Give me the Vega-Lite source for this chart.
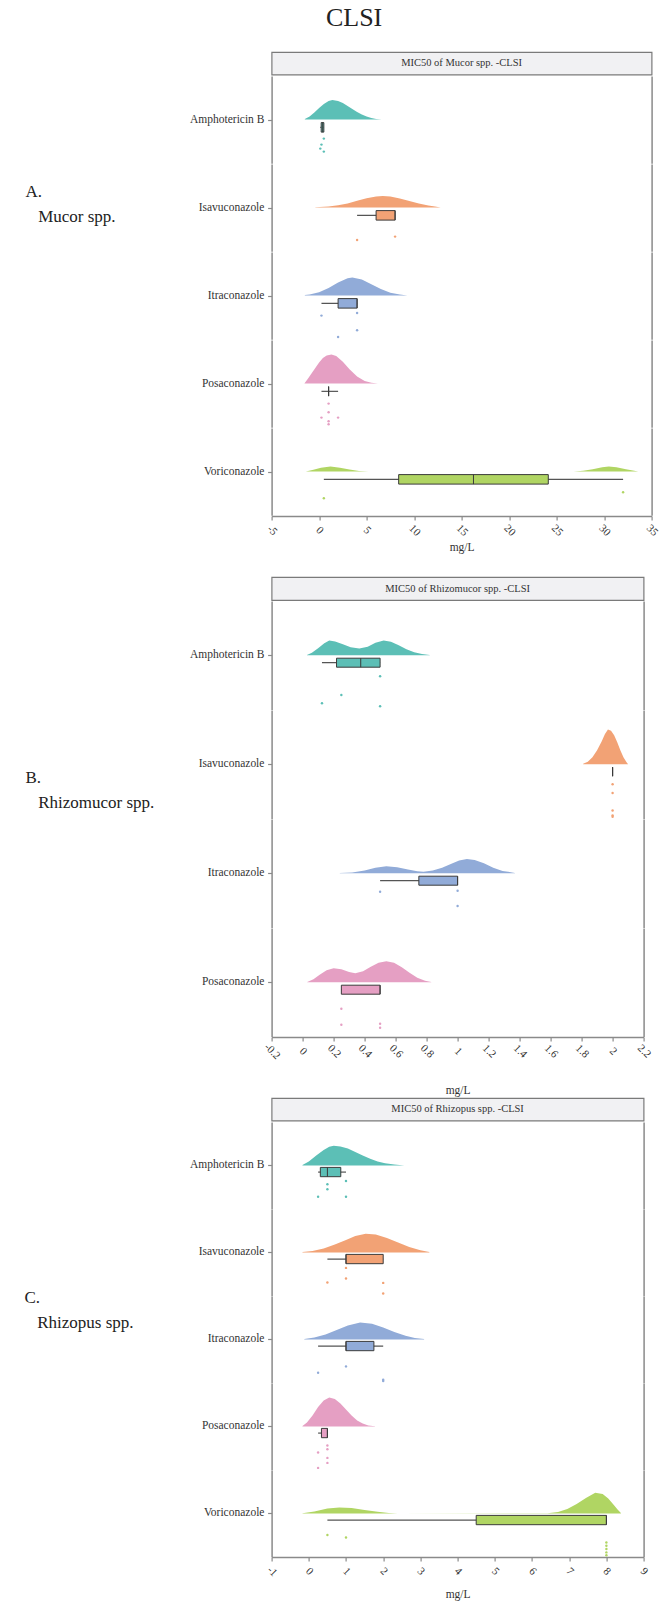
{
"$schema": "https://vega.github.io/schema/vega-lite/v6.json",
"background": "white",
"padding": {"left": 23.6, "top": 5, "right": 2, "bottom": 2},
"config": {
 "font": "Liberation Serif",
 "view": {"stroke": null},
 "legend": {"disable": true},
 "range": {"category": ["#5cbfb6", "#f2a275", "#91abd8", "#e59fc3", "#b0d563"]},
 "axis": {"grid": false, "labelFont": "Liberation Serif", "titleFont": "Liberation Serif", "labelColor": "#333333", "titleColor": "#333333", "domainColor": "#8a8a8a", "tickColor": "#8a8a8a", "domainWidth": 1.5, "tickWidth": 1.2},
 "axisX": {"labelAngle": 45, "labelFontSize": 11, "titleFontSize": 11.5, "titleFontWeight": "normal", "tickSize": 4, "labelPadding": 10, "titlePadding": 10.5, "labelAlign": "center", "labelBaseline": "middle", "labelFlush": false, "labelOverlap": false, "labelExpr": "replace(datum.label, '\u2212', '-')"},
 "axisY": {"labels": false, "tickSize": 4, "minExtent": 0},
 "header": {"labelAngle": 0, "labelAlign": "left", "labelOrient": "left", "labelBaseline": "middle", "labelFont": "Liberation Serif", "labelFontSize": 11.5, "labelColor": "#333333", "labelPadding": 2.5},
 "title": {"font": "Liberation Serif", "fontWeight": "normal", "color": "#222222"}
},
"datasets": {
 "A": [
  {"drug": "Amphotericin B", "kind": "box", "lo": 0.125, "q1": 0.22, "med": 0.375, "q3": 0.5, "hi": 0.5},
  {"drug": "Isavuconazole", "kind": "box", "lo": 4, "q1": 6, "med": 8, "q3": 8, "hi": 8},
  {"drug": "Itraconazole", "kind": "box", "lo": 0.25, "q1": 2, "med": 4, "q3": 4, "hi": 4},
  {"drug": "Posaconazole", "kind": "box", "lo": 0.25, "q1": 1, "med": 1, "q3": 1, "hi": 2},
  {"drug": "Voriconazole", "kind": "box", "lo": 0.5, "q1": 8.375, "med": 16.25, "q3": 24.125, "hi": 32},
  {"drug": "Amphotericin B", "kind": "dot", "x": 0.5, "jit": -19},
  {"drug": "Amphotericin B", "kind": "dot", "x": 0.25, "jit": -25},
  {"drug": "Amphotericin B", "kind": "dot", "x": 0.125, "jit": -29},
  {"drug": "Amphotericin B", "kind": "dot", "x": 0.5, "jit": -32},
  {"drug": "Isavuconazole", "kind": "dot", "x": 4, "jit": -32.4},
  {"drug": "Isavuconazole", "kind": "dot", "x": 8, "jit": -29},
  {"drug": "Itraconazole", "kind": "dot", "x": 0.25, "jit": -20},
  {"drug": "Itraconazole", "kind": "dot", "x": 4, "jit": -17.3},
  {"drug": "Itraconazole", "kind": "dot", "x": 4, "jit": -34.7},
  {"drug": "Itraconazole", "kind": "dot", "x": 2, "jit": -41.3},
  {"drug": "Posaconazole", "kind": "dot", "x": 1, "jit": -20},
  {"drug": "Posaconazole", "kind": "dot", "x": 1, "jit": -28.7},
  {"drug": "Posaconazole", "kind": "dot", "x": 0.25, "jit": -34},
  {"drug": "Posaconazole", "kind": "dot", "x": 2, "jit": -34},
  {"drug": "Posaconazole", "kind": "dot", "x": 1, "jit": -37.7},
  {"drug": "Posaconazole", "kind": "dot", "x": 1, "jit": -40.7},
  {"drug": "Voriconazole", "kind": "dot", "x": 0.5, "jit": -26.7},
  {"drug": "Voriconazole", "kind": "dot", "x": 32, "jit": -20.7},
  {"drug": "Amphotericin B", "kind": "dens", "seg": 1, "x": -1.5, "h": 0.5},
  {"drug": "Amphotericin B", "kind": "dens", "seg": 1, "x": -1, "h": 3},
  {"drug": "Amphotericin B", "kind": "dens", "seg": 1, "x": -0.5, "h": 7},
  {"drug": "Amphotericin B", "kind": "dens", "seg": 1, "x": 0, "h": 11.5},
  {"drug": "Amphotericin B", "kind": "dens", "seg": 1, "x": 0.5, "h": 15.5},
  {"drug": "Amphotericin B", "kind": "dens", "seg": 1, "x": 1, "h": 18.5},
  {"drug": "Amphotericin B", "kind": "dens", "seg": 1, "x": 1.4, "h": 19.5},
  {"drug": "Amphotericin B", "kind": "dens", "seg": 1, "x": 2, "h": 18.5},
  {"drug": "Amphotericin B", "kind": "dens", "seg": 1, "x": 2.5, "h": 16.5},
  {"drug": "Amphotericin B", "kind": "dens", "seg": 1, "x": 3, "h": 13.5},
  {"drug": "Amphotericin B", "kind": "dens", "seg": 1, "x": 3.5, "h": 10.5},
  {"drug": "Amphotericin B", "kind": "dens", "seg": 1, "x": 4, "h": 7.5},
  {"drug": "Amphotericin B", "kind": "dens", "seg": 1, "x": 4.5, "h": 5},
  {"drug": "Amphotericin B", "kind": "dens", "seg": 1, "x": 5, "h": 3},
  {"drug": "Amphotericin B", "kind": "dens", "seg": 1, "x": 5.5, "h": 1.5},
  {"drug": "Amphotericin B", "kind": "dens", "seg": 1, "x": 6, "h": 0.7},
  {"drug": "Amphotericin B", "kind": "dens", "seg": 1, "x": 6.6, "h": 0},
  {"drug": "Isavuconazole", "kind": "dens", "seg": 1, "x": -0.4, "h": 0.3},
  {"drug": "Isavuconazole", "kind": "dens", "seg": 1, "x": 1, "h": 1},
  {"drug": "Isavuconazole", "kind": "dens", "seg": 1, "x": 2, "h": 2.3},
  {"drug": "Isavuconazole", "kind": "dens", "seg": 1, "x": 3, "h": 4.2},
  {"drug": "Isavuconazole", "kind": "dens", "seg": 1, "x": 4, "h": 6.8},
  {"drug": "Isavuconazole", "kind": "dens", "seg": 1, "x": 5, "h": 9.3},
  {"drug": "Isavuconazole", "kind": "dens", "seg": 1, "x": 6, "h": 11.2},
  {"drug": "Isavuconazole", "kind": "dens", "seg": 1, "x": 6.7, "h": 11.6},
  {"drug": "Isavuconazole", "kind": "dens", "seg": 1, "x": 7.5, "h": 11.1},
  {"drug": "Isavuconazole", "kind": "dens", "seg": 1, "x": 8.5, "h": 9.1},
  {"drug": "Isavuconazole", "kind": "dens", "seg": 1, "x": 9.5, "h": 6.5},
  {"drug": "Isavuconazole", "kind": "dens", "seg": 1, "x": 10.5, "h": 4},
  {"drug": "Isavuconazole", "kind": "dens", "seg": 1, "x": 11.5, "h": 2.1},
  {"drug": "Isavuconazole", "kind": "dens", "seg": 1, "x": 12.2, "h": 1},
  {"drug": "Isavuconazole", "kind": "dens", "seg": 1, "x": 12.8, "h": 0},
  {"drug": "Itraconazole", "kind": "dens", "seg": 1, "x": -1.5, "h": 0.5},
  {"drug": "Itraconazole", "kind": "dens", "seg": 1, "x": -1, "h": 1.1},
  {"drug": "Itraconazole", "kind": "dens", "seg": 1, "x": 0, "h": 3.3},
  {"drug": "Itraconazole", "kind": "dens", "seg": 1, "x": 1, "h": 7.6},
  {"drug": "Itraconazole", "kind": "dens", "seg": 1, "x": 2, "h": 13.2},
  {"drug": "Itraconazole", "kind": "dens", "seg": 1, "x": 3, "h": 17.4},
  {"drug": "Itraconazole", "kind": "dens", "seg": 1, "x": 3.5, "h": 18},
  {"drug": "Itraconazole", "kind": "dens", "seg": 1, "x": 4.5, "h": 16.1},
  {"drug": "Itraconazole", "kind": "dens", "seg": 1, "x": 5.5, "h": 11.4},
  {"drug": "Itraconazole", "kind": "dens", "seg": 1, "x": 6.5, "h": 6.5},
  {"drug": "Itraconazole", "kind": "dens", "seg": 1, "x": 7.5, "h": 2.9},
  {"drug": "Itraconazole", "kind": "dens", "seg": 1, "x": 8.5, "h": 1.1},
  {"drug": "Itraconazole", "kind": "dens", "seg": 1, "x": 9.3, "h": 0.2},
  {"drug": "Posaconazole", "kind": "dens", "seg": 1, "x": -1.55, "h": 0},
  {"drug": "Posaconazole", "kind": "dens", "seg": 1, "x": -1.2, "h": 4.5},
  {"drug": "Posaconazole", "kind": "dens", "seg": 1, "x": -0.8, "h": 10},
  {"drug": "Posaconazole", "kind": "dens", "seg": 1, "x": -0.4, "h": 15.5},
  {"drug": "Posaconazole", "kind": "dens", "seg": 1, "x": 0, "h": 21},
  {"drug": "Posaconazole", "kind": "dens", "seg": 1, "x": 0.4, "h": 25.5},
  {"drug": "Posaconazole", "kind": "dens", "seg": 1, "x": 0.8, "h": 28.2},
  {"drug": "Posaconazole", "kind": "dens", "seg": 1, "x": 1.3, "h": 29},
  {"drug": "Posaconazole", "kind": "dens", "seg": 1, "x": 1.8, "h": 27.6},
  {"drug": "Posaconazole", "kind": "dens", "seg": 1, "x": 2.5, "h": 21.9},
  {"drug": "Posaconazole", "kind": "dens", "seg": 1, "x": 3.2, "h": 14.3},
  {"drug": "Posaconazole", "kind": "dens", "seg": 1, "x": 4, "h": 7},
  {"drug": "Posaconazole", "kind": "dens", "seg": 1, "x": 4.8, "h": 2.7},
  {"drug": "Posaconazole", "kind": "dens", "seg": 1, "x": 5.5, "h": 0.9},
  {"drug": "Posaconazole", "kind": "dens", "seg": 1, "x": 6.2, "h": 0.2},
  {"drug": "Voriconazole", "kind": "dens", "seg": 1, "x": -1.4, "h": 0.2},
  {"drug": "Voriconazole", "kind": "dens", "seg": 1, "x": -0.6, "h": 1.8},
  {"drug": "Voriconazole", "kind": "dens", "seg": 1, "x": 0.2, "h": 3.9},
  {"drug": "Voriconazole", "kind": "dens", "seg": 1, "x": 1.2, "h": 5},
  {"drug": "Voriconazole", "kind": "dens", "seg": 1, "x": 2.2, "h": 3.9},
  {"drug": "Voriconazole", "kind": "dens", "seg": 1, "x": 3.2, "h": 2},
  {"drug": "Voriconazole", "kind": "dens", "seg": 1, "x": 4.2, "h": 0.7},
  {"drug": "Voriconazole", "kind": "dens", "seg": 1, "x": 5.2, "h": 0},
  {"drug": "Voriconazole", "kind": "dens", "seg": 2, "x": 26.8, "h": 0},
  {"drug": "Voriconazole", "kind": "dens", "seg": 2, "x": 27.8, "h": 0.8},
  {"drug": "Voriconazole", "kind": "dens", "seg": 2, "x": 28.8, "h": 2.4},
  {"drug": "Voriconazole", "kind": "dens", "seg": 2, "x": 29.8, "h": 4.3},
  {"drug": "Voriconazole", "kind": "dens", "seg": 2, "x": 30.5, "h": 5},
  {"drug": "Voriconazole", "kind": "dens", "seg": 2, "x": 31.3, "h": 4.4},
  {"drug": "Voriconazole", "kind": "dens", "seg": 2, "x": 32.3, "h": 2.4},
  {"drug": "Voriconazole", "kind": "dens", "seg": 2, "x": 33.6, "h": 0}
 ],
 "B": [
  {"drug": "Amphotericin B", "kind": "box", "lo": 0.125, "q1": 0.219, "med": 0.375, "q3": 0.5, "hi": 0.5},
  {"drug": "Isavuconazole", "kind": "box", "lo": 2, "q1": 2, "med": 2, "q3": 2, "hi": 2},
  {"drug": "Itraconazole", "kind": "box", "lo": 0.5, "q1": 0.75, "med": 1, "q3": 1, "hi": 1},
  {"drug": "Posaconazole", "kind": "box", "lo": 0.25, "q1": 0.25, "med": 0.5, "q3": 0.5, "hi": 0.5},
  {"drug": "Amphotericin B", "kind": "dot", "x": 0.5, "jit": -21.1},
  {"drug": "Amphotericin B", "kind": "dot", "x": 0.25, "jit": -39.8},
  {"drug": "Amphotericin B", "kind": "dot", "x": 0.125, "jit": -48.1},
  {"drug": "Amphotericin B", "kind": "dot", "x": 0.5, "jit": -51.1},
  {"drug": "Isavuconazole", "kind": "dot", "x": 2, "jit": -20},
  {"drug": "Isavuconazole", "kind": "dot", "x": 2, "jit": -28.7},
  {"drug": "Isavuconazole", "kind": "dot", "x": 2, "jit": -46.4},
  {"drug": "Isavuconazole", "kind": "dot", "x": 2, "jit": -51.2},
  {"drug": "Isavuconazole", "kind": "dot", "x": 2, "jit": -52.6},
  {"drug": "Itraconazole", "kind": "dot", "x": 0.5, "jit": -18.6},
  {"drug": "Itraconazole", "kind": "dot", "x": 1, "jit": -17.6},
  {"drug": "Itraconazole", "kind": "dot", "x": 1, "jit": -32.9},
  {"drug": "Posaconazole", "kind": "dot", "x": 0.25, "jit": -26.5},
  {"drug": "Posaconazole", "kind": "dot", "x": 0.25, "jit": -42.5},
  {"drug": "Posaconazole", "kind": "dot", "x": 0.5, "jit": -41.5},
  {"drug": "Posaconazole", "kind": "dot", "x": 0.5, "jit": -45.5},
  {"drug": "Amphotericin B", "kind": "dens", "seg": 1, "x": 0.028, "h": 0.3},
  {"drug": "Amphotericin B", "kind": "dens", "seg": 1, "x": 0.06, "h": 2.5},
  {"drug": "Amphotericin B", "kind": "dens", "seg": 1, "x": 0.1, "h": 7},
  {"drug": "Amphotericin B", "kind": "dens", "seg": 1, "x": 0.14, "h": 12},
  {"drug": "Amphotericin B", "kind": "dens", "seg": 1, "x": 0.172, "h": 14.7},
  {"drug": "Amphotericin B", "kind": "dens", "seg": 1, "x": 0.21, "h": 13.8},
  {"drug": "Amphotericin B", "kind": "dens", "seg": 1, "x": 0.26, "h": 11},
  {"drug": "Amphotericin B", "kind": "dens", "seg": 1, "x": 0.31, "h": 8},
  {"drug": "Amphotericin B", "kind": "dens", "seg": 1, "x": 0.366, "h": 6.7},
  {"drug": "Amphotericin B", "kind": "dens", "seg": 1, "x": 0.42, "h": 8.5},
  {"drug": "Amphotericin B", "kind": "dens", "seg": 1, "x": 0.47, "h": 12.5},
  {"drug": "Amphotericin B", "kind": "dens", "seg": 1, "x": 0.523, "h": 14.7},
  {"drug": "Amphotericin B", "kind": "dens", "seg": 1, "x": 0.57, "h": 13.5},
  {"drug": "Amphotericin B", "kind": "dens", "seg": 1, "x": 0.62, "h": 10},
  {"drug": "Amphotericin B", "kind": "dens", "seg": 1, "x": 0.67, "h": 6},
  {"drug": "Amphotericin B", "kind": "dens", "seg": 1, "x": 0.72, "h": 3},
  {"drug": "Amphotericin B", "kind": "dens", "seg": 1, "x": 0.77, "h": 1.2},
  {"drug": "Amphotericin B", "kind": "dens", "seg": 1, "x": 0.82, "h": 0.2},
  {"drug": "Isavuconazole", "kind": "dens", "seg": 1, "x": 1.81, "h": 0.5},
  {"drug": "Isavuconazole", "kind": "dens", "seg": 1, "x": 1.84, "h": 2.5},
  {"drug": "Isavuconazole", "kind": "dens", "seg": 1, "x": 1.87, "h": 7},
  {"drug": "Isavuconazole", "kind": "dens", "seg": 1, "x": 1.9, "h": 14},
  {"drug": "Isavuconazole", "kind": "dens", "seg": 1, "x": 1.93, "h": 23},
  {"drug": "Isavuconazole", "kind": "dens", "seg": 1, "x": 1.95, "h": 30},
  {"drug": "Isavuconazole", "kind": "dens", "seg": 1, "x": 1.97, "h": 34.8},
  {"drug": "Isavuconazole", "kind": "dens", "seg": 1, "x": 1.99, "h": 33.5},
  {"drug": "Isavuconazole", "kind": "dens", "seg": 1, "x": 2.01, "h": 29},
  {"drug": "Isavuconazole", "kind": "dens", "seg": 1, "x": 2.03, "h": 22},
  {"drug": "Isavuconazole", "kind": "dens", "seg": 1, "x": 2.05, "h": 14},
  {"drug": "Isavuconazole", "kind": "dens", "seg": 1, "x": 2.07, "h": 7},
  {"drug": "Isavuconazole", "kind": "dens", "seg": 1, "x": 2.09, "h": 2},
  {"drug": "Isavuconazole", "kind": "dens", "seg": 1, "x": 2.1, "h": 0},
  {"drug": "Itraconazole", "kind": "dens", "seg": 1, "x": 0.24, "h": 0.1},
  {"drug": "Itraconazole", "kind": "dens", "seg": 1, "x": 0.32, "h": 0.8},
  {"drug": "Itraconazole", "kind": "dens", "seg": 1, "x": 0.4, "h": 2.8},
  {"drug": "Itraconazole", "kind": "dens", "seg": 1, "x": 0.47, "h": 5.5},
  {"drug": "Itraconazole", "kind": "dens", "seg": 1, "x": 0.54, "h": 7},
  {"drug": "Itraconazole", "kind": "dens", "seg": 1, "x": 0.61, "h": 6},
  {"drug": "Itraconazole", "kind": "dens", "seg": 1, "x": 0.68, "h": 3.8},
  {"drug": "Itraconazole", "kind": "dens", "seg": 1, "x": 0.74, "h": 2},
  {"drug": "Itraconazole", "kind": "dens", "seg": 1, "x": 0.78, "h": 1.5},
  {"drug": "Itraconazole", "kind": "dens", "seg": 1, "x": 0.84, "h": 2.6},
  {"drug": "Itraconazole", "kind": "dens", "seg": 1, "x": 0.9, "h": 5.5},
  {"drug": "Itraconazole", "kind": "dens", "seg": 1, "x": 0.96, "h": 9.5},
  {"drug": "Itraconazole", "kind": "dens", "seg": 1, "x": 1.01, "h": 12.8},
  {"drug": "Itraconazole", "kind": "dens", "seg": 1, "x": 1.06, "h": 14.3},
  {"drug": "Itraconazole", "kind": "dens", "seg": 1, "x": 1.11, "h": 13.2},
  {"drug": "Itraconazole", "kind": "dens", "seg": 1, "x": 1.17, "h": 10},
  {"drug": "Itraconazole", "kind": "dens", "seg": 1, "x": 1.23, "h": 5.5},
  {"drug": "Itraconazole", "kind": "dens", "seg": 1, "x": 1.29, "h": 2.3},
  {"drug": "Itraconazole", "kind": "dens", "seg": 1, "x": 1.37, "h": 0.3},
  {"drug": "Posaconazole", "kind": "dens", "seg": 1, "x": 0.03, "h": 0.3},
  {"drug": "Posaconazole", "kind": "dens", "seg": 1, "x": 0.07, "h": 3},
  {"drug": "Posaconazole", "kind": "dens", "seg": 1, "x": 0.11, "h": 7.5},
  {"drug": "Posaconazole", "kind": "dens", "seg": 1, "x": 0.155, "h": 12},
  {"drug": "Posaconazole", "kind": "dens", "seg": 1, "x": 0.2, "h": 14},
  {"drug": "Posaconazole", "kind": "dens", "seg": 1, "x": 0.25, "h": 13},
  {"drug": "Posaconazole", "kind": "dens", "seg": 1, "x": 0.3, "h": 10.2},
  {"drug": "Posaconazole", "kind": "dens", "seg": 1, "x": 0.34, "h": 9},
  {"drug": "Posaconazole", "kind": "dens", "seg": 1, "x": 0.39, "h": 11},
  {"drug": "Posaconazole", "kind": "dens", "seg": 1, "x": 0.44, "h": 15.5},
  {"drug": "Posaconazole", "kind": "dens", "seg": 1, "x": 0.49, "h": 19.5},
  {"drug": "Posaconazole", "kind": "dens", "seg": 1, "x": 0.54, "h": 21},
  {"drug": "Posaconazole", "kind": "dens", "seg": 1, "x": 0.59, "h": 19.5},
  {"drug": "Posaconazole", "kind": "dens", "seg": 1, "x": 0.64, "h": 15},
  {"drug": "Posaconazole", "kind": "dens", "seg": 1, "x": 0.69, "h": 9.5},
  {"drug": "Posaconazole", "kind": "dens", "seg": 1, "x": 0.74, "h": 4.5},
  {"drug": "Posaconazole", "kind": "dens", "seg": 1, "x": 0.79, "h": 1.5},
  {"drug": "Posaconazole", "kind": "dens", "seg": 1, "x": 0.83, "h": 0.2}
 ],
 "C": [
  {"drug": "Amphotericin B", "kind": "box", "lo": 0.25, "q1": 0.31, "med": 0.5, "q3": 0.86, "hi": 1},
  {"drug": "Isavuconazole", "kind": "box", "lo": 0.5, "q1": 1, "med": 1, "q3": 2, "hi": 2},
  {"drug": "Itraconazole", "kind": "box", "lo": 0.25, "q1": 1, "med": 1, "q3": 1.75, "hi": 2},
  {"drug": "Posaconazole", "kind": "box", "lo": 0.25, "q1": 0.34, "med": 0.5, "q3": 0.5, "hi": 0.5},
  {"drug": "Voriconazole", "kind": "box", "lo": 0.5, "q1": 4.5, "med": 8, "q3": 8, "hi": 8},
  {"drug": "Amphotericin B", "kind": "dot", "x": 1, "jit": -15.6},
  {"drug": "Amphotericin B", "kind": "dot", "x": 0.5, "jit": -18.9},
  {"drug": "Amphotericin B", "kind": "dot", "x": 0.5, "jit": -23.9},
  {"drug": "Amphotericin B", "kind": "dot", "x": 0.25, "jit": -31.3},
  {"drug": "Amphotericin B", "kind": "dot", "x": 1, "jit": -31.3},
  {"drug": "Isavuconazole", "kind": "dot", "x": 1, "jit": -15.5},
  {"drug": "Isavuconazole", "kind": "dot", "x": 1, "jit": -26.1},
  {"drug": "Isavuconazole", "kind": "dot", "x": 0.5, "jit": -30.1},
  {"drug": "Isavuconazole", "kind": "dot", "x": 2, "jit": -30.5},
  {"drug": "Isavuconazole", "kind": "dot", "x": 2, "jit": -41.1},
  {"drug": "Itraconazole", "kind": "dot", "x": 1, "jit": -27},
  {"drug": "Itraconazole", "kind": "dot", "x": 0.25, "jit": -33.3},
  {"drug": "Itraconazole", "kind": "dot", "x": 2, "jit": -40.3},
  {"drug": "Itraconazole", "kind": "dot", "x": 2, "jit": -41.7},
  {"drug": "Posaconazole", "kind": "dot", "x": 0.5, "jit": -19.2},
  {"drug": "Posaconazole", "kind": "dot", "x": 0.5, "jit": -22.9},
  {"drug": "Posaconazole", "kind": "dot", "x": 0.25, "jit": -26.2},
  {"drug": "Posaconazole", "kind": "dot", "x": 0.5, "jit": -31.5},
  {"drug": "Posaconazole", "kind": "dot", "x": 0.5, "jit": -36.5},
  {"drug": "Posaconazole", "kind": "dot", "x": 0.25, "jit": -41.5},
  {"drug": "Voriconazole", "kind": "dot", "x": 0.5, "jit": -21.7},
  {"drug": "Voriconazole", "kind": "dot", "x": 1, "jit": -24.1},
  {"drug": "Voriconazole", "kind": "dot", "x": 8, "jit": -29.1},
  {"drug": "Voriconazole", "kind": "dot", "x": 8, "jit": -32.4},
  {"drug": "Voriconazole", "kind": "dot", "x": 8, "jit": -35.7},
  {"drug": "Voriconazole", "kind": "dot", "x": 8, "jit": -39},
  {"drug": "Voriconazole", "kind": "dot", "x": 8, "jit": -41.8},
  {"drug": "Amphotericin B", "kind": "dens", "seg": 1, "x": -0.17, "h": 0.3},
  {"drug": "Amphotericin B", "kind": "dens", "seg": 1, "x": 0, "h": 4},
  {"drug": "Amphotericin B", "kind": "dens", "seg": 1, "x": 0.2, "h": 10},
  {"drug": "Amphotericin B", "kind": "dens", "seg": 1, "x": 0.4, "h": 15.5},
  {"drug": "Amphotericin B", "kind": "dens", "seg": 1, "x": 0.55, "h": 18.7},
  {"drug": "Amphotericin B", "kind": "dens", "seg": 1, "x": 0.67, "h": 19.7},
  {"drug": "Amphotericin B", "kind": "dens", "seg": 1, "x": 0.85, "h": 19},
  {"drug": "Amphotericin B", "kind": "dens", "seg": 1, "x": 1.05, "h": 16.8},
  {"drug": "Amphotericin B", "kind": "dens", "seg": 1, "x": 1.25, "h": 13.5},
  {"drug": "Amphotericin B", "kind": "dens", "seg": 1, "x": 1.45, "h": 10},
  {"drug": "Amphotericin B", "kind": "dens", "seg": 1, "x": 1.65, "h": 6.7},
  {"drug": "Amphotericin B", "kind": "dens", "seg": 1, "x": 1.85, "h": 4},
  {"drug": "Amphotericin B", "kind": "dens", "seg": 1, "x": 2.05, "h": 2.2},
  {"drug": "Amphotericin B", "kind": "dens", "seg": 1, "x": 2.3, "h": 0.8},
  {"drug": "Amphotericin B", "kind": "dens", "seg": 1, "x": 2.57, "h": 0},
  {"drug": "Isavuconazole", "kind": "dens", "seg": 1, "x": -0.17, "h": 0.3},
  {"drug": "Isavuconazole", "kind": "dens", "seg": 1, "x": 0.1, "h": 1.5},
  {"drug": "Isavuconazole", "kind": "dens", "seg": 1, "x": 0.4, "h": 4},
  {"drug": "Isavuconazole", "kind": "dens", "seg": 1, "x": 0.7, "h": 8},
  {"drug": "Isavuconazole", "kind": "dens", "seg": 1, "x": 1, "h": 12.5},
  {"drug": "Isavuconazole", "kind": "dens", "seg": 1, "x": 1.25, "h": 16.3},
  {"drug": "Isavuconazole", "kind": "dens", "seg": 1, "x": 1.53, "h": 18.7},
  {"drug": "Isavuconazole", "kind": "dens", "seg": 1, "x": 1.8, "h": 17.8},
  {"drug": "Isavuconazole", "kind": "dens", "seg": 1, "x": 2.1, "h": 14.5},
  {"drug": "Isavuconazole", "kind": "dens", "seg": 1, "x": 2.4, "h": 10},
  {"drug": "Isavuconazole", "kind": "dens", "seg": 1, "x": 2.7, "h": 5.5},
  {"drug": "Isavuconazole", "kind": "dens", "seg": 1, "x": 3, "h": 2.2},
  {"drug": "Isavuconazole", "kind": "dens", "seg": 1, "x": 3.24, "h": 0.5},
  {"drug": "Itraconazole", "kind": "dens", "seg": 1, "x": -0.12, "h": 0.3},
  {"drug": "Itraconazole", "kind": "dens", "seg": 1, "x": 0.15, "h": 1.8},
  {"drug": "Itraconazole", "kind": "dens", "seg": 1, "x": 0.45, "h": 5},
  {"drug": "Itraconazole", "kind": "dens", "seg": 1, "x": 0.75, "h": 9.5},
  {"drug": "Itraconazole", "kind": "dens", "seg": 1, "x": 1.05, "h": 14},
  {"drug": "Itraconazole", "kind": "dens", "seg": 1, "x": 1.38, "h": 17},
  {"drug": "Itraconazole", "kind": "dens", "seg": 1, "x": 1.7, "h": 15.6},
  {"drug": "Itraconazole", "kind": "dens", "seg": 1, "x": 2, "h": 11.8},
  {"drug": "Itraconazole", "kind": "dens", "seg": 1, "x": 2.3, "h": 7.4},
  {"drug": "Itraconazole", "kind": "dens", "seg": 1, "x": 2.6, "h": 3.7},
  {"drug": "Itraconazole", "kind": "dens", "seg": 1, "x": 2.85, "h": 1.5},
  {"drug": "Itraconazole", "kind": "dens", "seg": 1, "x": 3.1, "h": 0.3},
  {"drug": "Posaconazole", "kind": "dens", "seg": 1, "x": -0.17, "h": 0.5},
  {"drug": "Posaconazole", "kind": "dens", "seg": 1, "x": -0.05, "h": 4},
  {"drug": "Posaconazole", "kind": "dens", "seg": 1, "x": 0.1, "h": 11},
  {"drug": "Posaconazole", "kind": "dens", "seg": 1, "x": 0.25, "h": 19.5},
  {"drug": "Posaconazole", "kind": "dens", "seg": 1, "x": 0.4, "h": 26},
  {"drug": "Posaconazole", "kind": "dens", "seg": 1, "x": 0.55, "h": 29},
  {"drug": "Posaconazole", "kind": "dens", "seg": 1, "x": 0.7, "h": 27.5},
  {"drug": "Posaconazole", "kind": "dens", "seg": 1, "x": 0.85, "h": 23},
  {"drug": "Posaconazole", "kind": "dens", "seg": 1, "x": 1, "h": 17},
  {"drug": "Posaconazole", "kind": "dens", "seg": 1, "x": 1.15, "h": 11},
  {"drug": "Posaconazole", "kind": "dens", "seg": 1, "x": 1.3, "h": 6},
  {"drug": "Posaconazole", "kind": "dens", "seg": 1, "x": 1.45, "h": 2.8},
  {"drug": "Posaconazole", "kind": "dens", "seg": 1, "x": 1.6, "h": 1},
  {"drug": "Posaconazole", "kind": "dens", "seg": 1, "x": 1.78, "h": 0.1},
  {"drug": "Voriconazole", "kind": "dens", "seg": 1, "x": -0.17, "h": 0.2},
  {"drug": "Voriconazole", "kind": "dens", "seg": 1, "x": 0.15, "h": 2},
  {"drug": "Voriconazole", "kind": "dens", "seg": 1, "x": 0.5, "h": 4.8},
  {"drug": "Voriconazole", "kind": "dens", "seg": 1, "x": 0.82, "h": 6},
  {"drug": "Voriconazole", "kind": "dens", "seg": 1, "x": 1.15, "h": 5.3},
  {"drug": "Voriconazole", "kind": "dens", "seg": 1, "x": 1.5, "h": 3.5},
  {"drug": "Voriconazole", "kind": "dens", "seg": 1, "x": 1.85, "h": 1.6},
  {"drug": "Voriconazole", "kind": "dens", "seg": 1, "x": 2.15, "h": 0.5},
  {"drug": "Voriconazole", "kind": "dens", "seg": 1, "x": 2.39, "h": 0},
  {"drug": "Voriconazole", "kind": "dens", "seg": 2, "x": 6.42, "h": 0.2},
  {"drug": "Voriconazole", "kind": "dens", "seg": 2, "x": 6.7, "h": 1.5},
  {"drug": "Voriconazole", "kind": "dens", "seg": 2, "x": 6.95, "h": 4.5},
  {"drug": "Voriconazole", "kind": "dens", "seg": 2, "x": 7.2, "h": 9.5},
  {"drug": "Voriconazole", "kind": "dens", "seg": 2, "x": 7.45, "h": 15.5},
  {"drug": "Voriconazole", "kind": "dens", "seg": 2, "x": 7.7, "h": 20.7},
  {"drug": "Voriconazole", "kind": "dens", "seg": 2, "x": 7.9, "h": 19.5},
  {"drug": "Voriconazole", "kind": "dens", "seg": 2, "x": 8.05, "h": 15},
  {"drug": "Voriconazole", "kind": "dens", "seg": 2, "x": 8.2, "h": 8.5},
  {"drug": "Voriconazole", "kind": "dens", "seg": 2, "x": 8.3, "h": 4},
  {"drug": "Voriconazole", "kind": "dens", "seg": 2, "x": 8.39, "h": 0.5}
 ]
},
"title": {"text": "CLSI", "fontSize": 26, "anchor": "middle", "dx": 12, "offset": 20},
"spacing": 22,
"vconcat": [
 {
  "title": {"text": ["A.", "\u200b\u00a0\u00a0\u00a0Mucor spp."], "orient": "left", "angle": 0, "align": "left", "baseline": "middle", "anchor": "middle", "fontSize": 17, "lineHeight": 25, "offset": 0, "dx": -74.4, "dy": -110},
  "spacing": 0,
  "vconcat": [
   {"width": 380, "height": 22.5, "view": {"fill": "#f1f1f3", "stroke": "#7a7a7a", "strokeWidth": 1.2},
    "data": {"values": [{"t": "MIC50 of Mucor spp. -CLSI"}]},
    "mark": {"type": "text", "fontSize": 10.5, "font": "Liberation Serif", "color": "#333333"},
    "encoding": {"text": {"field": "t", "type": "nominal"}}},
   {"data": {"name": "A"},
    "facet": {"row": {"field": "drug", "type": "nominal", "title": null, "sort": ["Amphotericin B", "Isavuconazole", "Itraconazole", "Posaconazole", "Voriconazole"]}},
    "spacing": {"row": 0},
    "spec": {"width": 380, "height": 87.2,
     "resolve": {"axis": {"y": "independent"}},
     "layer": [
      {"transform": [{"filter": "datum.kind === 'dens'"}], "mark": {"type": "area"},
       "encoding": {"x": {"field": "x", "type": "quantitative", "title": "mg/L", "axis": {"titlePadding": 4.5}, "scale": {"domain": [-5, 35], "nice": false, "zero": false}}, "y": {"field": "h", "type": "quantitative", "title": null, "scale": {"domain": [-43.6, 43.6], "nice": false, "zero": false}, "axis": {"values": [0], "orient": "left"}}, "color": {"field": "drug", "type": "nominal"}, "detail": {"field": "seg", "type": "nominal"}}},
      {"transform": [{"filter": "datum.kind === 'box'"}], "mark": {"type": "rule", "color": "#555555", "strokeWidth": 1.2},
       "encoding": {"x": {"field": "lo", "type": "quantitative", "title": "mg/L", "axis": {"titlePadding": 4.5}}, "x2": {"field": "hi"}, "y": {"datum": -7.75, "type": "quantitative", "axis": null}}},
      {"transform": [{"filter": "datum.kind === 'box'"}], "mark": {"type": "rect", "stroke": "#3a3a3a", "strokeWidth": 1},
       "encoding": {"x": {"field": "q1", "type": "quantitative", "title": "mg/L", "axis": {"titlePadding": 4.5}}, "x2": {"field": "q3"}, "y": {"datum": -3, "type": "quantitative", "axis": null}, "y2": {"datum": -12.5}, "color": {"field": "drug", "type": "nominal"}}},
      {"transform": [{"filter": "datum.kind === 'box'"}], "mark": {"type": "rule", "color": "#3a3a3a", "strokeWidth": 1},
       "encoding": {"x": {"field": "med", "type": "quantitative", "title": "mg/L", "axis": {"titlePadding": 4.5}}, "y": {"datum": -3, "type": "quantitative", "axis": null}, "y2": {"datum": -12.5}}},
      {"transform": [{"filter": "datum.kind === 'dot'"}], "mark": {"type": "circle", "size": 6, "opacity": 1},
       "encoding": {"x": {"field": "x", "type": "quantitative", "title": "mg/L", "axis": {"titlePadding": 4.5}}, "y": {"field": "jit", "type": "quantitative", "title": null, "axis": {"orient": "right", "ticks": false, "labels": false, "values": []}}, "color": {"field": "drug", "type": "nominal"}}}
     ]}
   }
  ]
 },
 {
  "spacing": 0,
  "vconcat": [
   {
    "title": {"text": ["B.", "\u200b\u00a0\u00a0\u00a0Rhizomucor spp."], "orient": "left", "angle": 0, "align": "left", "baseline": "middle", "anchor": "middle", "fontSize": 17, "lineHeight": 25, "offset": 0, "dx": -35.7, "dy": -58},
    "spacing": 0,
    "vconcat": [
     {"width": 372, "height": 23, "view": {"fill": "#f1f1f3", "stroke": "#7a7a7a", "strokeWidth": 1.2},
      "data": {"values": [{"t": "MIC50 of Rhizomucor spp. -CLSI"}]},
      "mark": {"type": "text", "fontSize": 10.5, "font": "Liberation Serif", "color": "#333333"},
      "encoding": {"text": {"field": "t", "type": "nominal"}}},
     {"data": {"name": "B"},
      "facet": {"row": {"field": "drug", "type": "nominal", "title": null, "sort": ["Amphotericin B", "Isavuconazole", "Itraconazole", "Posaconazole"]}},
      "spacing": {"row": 0},
      "spec": {"width": 372, "height": 108.4,
       "resolve": {"axis": {"y": "independent"}},
       "layer": [
        {"transform": [{"filter": "datum.kind === 'dens'"}], "mark": {"type": "area"},
         "encoding": {"x": {"field": "x", "type": "quantitative", "title": "mg/L", "axis": {"titlePadding": 24, "format": "~g"}, "scale": {"domain": [-0.2, 2.2], "nice": false, "zero": false}}, "y": {"field": "h", "type": "quantitative", "title": null, "scale": {"domain": [-54.2, 54.2], "nice": false, "zero": false}, "axis": {"values": [0], "orient": "left"}}, "color": {"field": "drug", "type": "nominal"}, "detail": {"field": "seg", "type": "nominal"}}},
        {"transform": [{"filter": "datum.kind === 'box'"}], "mark": {"type": "rule", "color": "#555555", "strokeWidth": 1.2},
         "encoding": {"x": {"field": "lo", "type": "quantitative", "title": "mg/L", "axis": {"titlePadding": 24, "format": "~g"}}, "x2": {"field": "hi"}, "y": {"datum": -7.5, "type": "quantitative", "axis": null}}},
        {"transform": [{"filter": "datum.kind === 'box'"}], "mark": {"type": "rect", "stroke": "#3a3a3a", "strokeWidth": 1},
         "encoding": {"x": {"field": "q1", "type": "quantitative", "title": "mg/L", "axis": {"titlePadding": 24, "format": "~g"}}, "x2": {"field": "q3"}, "y": {"datum": -3, "type": "quantitative", "axis": null}, "y2": {"datum": -12}, "color": {"field": "drug", "type": "nominal"}}},
        {"transform": [{"filter": "datum.kind === 'box'"}], "mark": {"type": "rule", "color": "#3a3a3a", "strokeWidth": 1},
         "encoding": {"x": {"field": "med", "type": "quantitative", "title": "mg/L", "axis": {"titlePadding": 24, "format": "~g"}}, "y": {"datum": -3, "type": "quantitative", "axis": null}, "y2": {"datum": -12}}},
        {"transform": [{"filter": "datum.kind === 'dot'"}], "mark": {"type": "circle", "size": 6, "opacity": 1},
         "encoding": {"x": {"field": "x", "type": "quantitative", "title": "mg/L", "axis": {"titlePadding": 24, "format": "~g"}}, "y": {"field": "jit", "type": "quantitative", "title": null, "axis": {"orient": "right", "ticks": false, "labels": false, "values": []}}, "color": {"field": "drug", "type": "nominal"}}}
       ]}
     }
    ]
   },
   {
    "title": {"text": ["C.", "\u200b\u00a0\u00a0\u00a0Rhizopus spp."], "orient": "left", "angle": 0, "align": "left", "baseline": "middle", "anchor": "middle", "fontSize": 17, "lineHeight": 25, "offset": 0, "dx": -56.5, "dy": -51},
    "spacing": 0,
    "vconcat": [
     {"width": 372, "height": 22.5, "view": {"fill": "#f1f1f3", "stroke": "#7a7a7a", "strokeWidth": 1.2},
      "data": {"values": [{"t": "MIC50 of Rhizopus spp. -CLSI"}]},
      "mark": {"type": "text", "fontSize": 10.5, "font": "Liberation Serif", "color": "#333333"},
      "encoding": {"text": {"field": "t", "type": "nominal"}}},
     {"data": {"name": "C"},
      "facet": {"row": {"field": "drug", "type": "nominal", "title": null, "sort": ["Amphotericin B", "Isavuconazole", "Itraconazole", "Posaconazole", "Voriconazole"]}},
      "spacing": {"row": 0},
      "spec": {"width": 372, "height": 86.8,
       "resolve": {"axis": {"y": "independent"}},
       "layer": [
        {"transform": [{"filter": "datum.kind === 'dens'"}], "mark": {"type": "area"},
         "encoding": {"x": {"field": "x", "type": "quantitative", "title": "mg/L", "scale": {"domain": [-1, 9], "nice": false, "zero": false}}, "y": {"field": "h", "type": "quantitative", "title": null, "scale": {"domain": [-43.4, 43.4], "nice": false, "zero": false}, "axis": {"values": [0], "orient": "left"}}, "color": {"field": "drug", "type": "nominal"}, "detail": {"field": "seg", "type": "nominal"}}},
        {"transform": [{"filter": "datum.kind === 'box'"}], "mark": {"type": "rule", "color": "#555555", "strokeWidth": 1.2},
         "encoding": {"x": {"field": "lo", "type": "quantitative", "title": "mg/L"}, "x2": {"field": "hi"}, "y": {"datum": -6.7, "type": "quantitative", "axis": null}}},
        {"transform": [{"filter": "datum.kind === 'box'"}], "mark": {"type": "rect", "stroke": "#3a3a3a", "strokeWidth": 1},
         "encoding": {"x": {"field": "q1", "type": "quantitative", "title": "mg/L"}, "x2": {"field": "q3"}, "y": {"datum": -2, "type": "quantitative", "axis": null}, "y2": {"datum": -11.3}, "color": {"field": "drug", "type": "nominal"}}},
        {"transform": [{"filter": "datum.kind === 'box'"}], "mark": {"type": "rule", "color": "#3a3a3a", "strokeWidth": 1},
         "encoding": {"x": {"field": "med", "type": "quantitative", "title": "mg/L"}, "y": {"datum": -2, "type": "quantitative", "axis": null}, "y2": {"datum": -11.3}}},
        {"transform": [{"filter": "datum.kind === 'dot'"}], "mark": {"type": "circle", "size": 6, "opacity": 1},
         "encoding": {"x": {"field": "x", "type": "quantitative", "title": "mg/L"}, "y": {"field": "jit", "type": "quantitative", "title": null, "axis": {"orient": "right", "ticks": false, "labels": false, "values": []}}, "color": {"field": "drug", "type": "nominal"}}}
       ]}
     }
    ]
   }
  ]
 }
]
}
